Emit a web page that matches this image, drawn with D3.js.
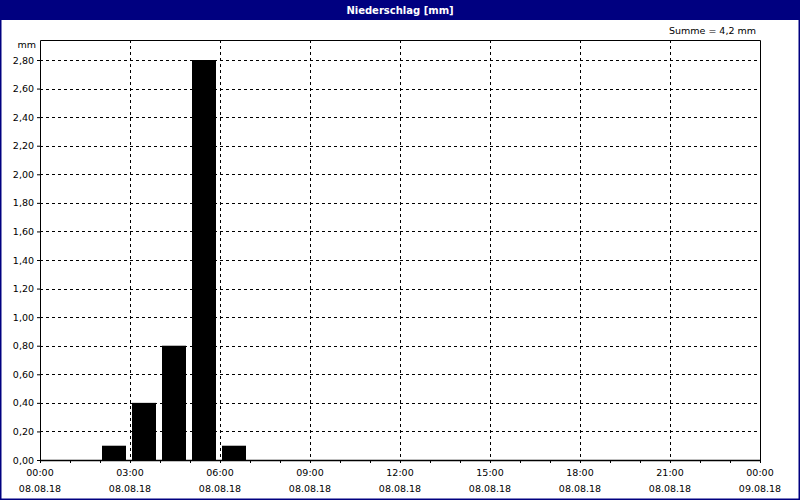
<!DOCTYPE html>
<meta charset="utf-8">
<head>
<title>Niederschlag [mm]</title>
<style>
  body { margin: 0; background: #fff; }
  text { font-family: "DejaVu Sans", Verdana, sans-serif; }
</style>
</head>
<body>
<div id="chart"></div>
<script src="https://d3js.org/d3.v7.min.js"></script>
<script>

// hourly rain amounts, 08.08.18 (hour start -> mm)
var hours = [2, 3, 4, 5, 6];
var amounts = [0.1, 0.4, 0.8, 2.8, 0.1];
var yTicks = [0, 0.2, 0.4, 0.6, 0.8, 1.0, 1.2, 1.4, 1.6, 1.8, 2.0, 2.2, 2.4, 2.6, 2.8];
var xLabelHours = [0, 3, 6, 9, 12, 15, 18, 21, 24];
var timeLabels = ["00:00", "03:00", "06:00", "09:00", "12:00", "15:00", "18:00", "21:00", "00:00"];
var dateLabels = ["08.08.18", "08.08.18", "08.08.18", "08.08.18", "08.08.18", "08.08.18", "08.08.18", "08.08.18", "09.08.18"];
var title = "Niederschlag [mm]";
var sumText = "Summe = 4,2 mm";

var W = 800, H = 500;
var margin = {top: 40, right: 40, bottom: 40, left: 40},
    width = W - margin.left - margin.right,
    height = H - margin.top - margin.bottom;

var svg = d3.select("#chart")
  .append("svg")
    .attr("width", W)
    .attr("height", H);

// frame and title bar
svg.append("rect")
    .attr("x", 0.5).attr("y", 0.5)
    .attr("width", W - 1).attr("height", H - 1)
    .attr("fill", "#fff")
    .attr("stroke", "#000080")
    .attr("stroke-width", 2);
svg.append("rect")
    .attr("x", 0).attr("y", 0)
    .attr("width", W).attr("height", 20)
    .attr("fill", "#000080");
svg.append("text")
    .attr("x", W / 2).attr("y", 14)
    .attr("text-anchor", "middle")
    .attr("fill", "#fff")
    .style("font-size", "10px")
    .style("font-weight", "bold")
    .text(title);

svg.append("text")
    .attr("x", 756).attr("y", 34)
    .attr("text-anchor", "end")
    .style("font-size", "9.5px")
    .text(sumText);

var g = svg.append("g")
    .attr("transform", "translate(" + margin.left + "," + margin.top + ")");

var x = d3.scaleLinear().domain([0, 24]).range([0, width]);
var y = d3.scaleLinear().domain([0, 2.94]).range([height, 0]);

// dashed grid
g.selectAll(".hgrid")
  .data(yTicks.slice(1))
  .enter().append("line")
    .attr("x1", 0).attr("x2", width)
    .attr("y1", function(d) { return Math.round(y(d)) + 0.5; })
    .attr("y2", function(d) { return Math.round(y(d)) + 0.5; })
    .attr("stroke", "#000")
    .attr("stroke-dasharray", "3,3");
g.selectAll(".vgrid")
  .data(xLabelHours.slice(1, -1))
  .enter().append("line")
    .attr("x1", function(d) { return x(d) + 0.5; })
    .attr("x2", function(d) { return x(d) + 0.5; })
    .attr("y1", 0).attr("y2", height)
    .attr("stroke", "#000")
    .attr("stroke-dasharray", "3,3");

// bars
g.selectAll(".bar")
  .data(hours)
  .enter().append("rect")
    .attr("x", function(d) { return x(d) + 2; })
    .attr("width", function(d) { return x(d + 1) - x(d) - 6; })
    .attr("y", function(d, i) { return y(amounts[i]); })
    .attr("height", function(d, i) { return height - y(amounts[i]); })
    .attr("fill", "#000");

// plot border
g.append("path")
    .attr("d", "M0.5," + height + "V0.5H" + (width + 0.5) + "V" + height)
    .attr("fill", "none")
    .attr("stroke", "#000");

// axes
var fmt = function(d) { return d3.format(".2f")(d).replace(".", ","); };
var yAxis = g.append("g")
    .call(d3.axisLeft(y).tickValues(yTicks).tickFormat(fmt).tickSize(3).tickPadding(3));
yAxis.select(".domain").remove();
yAxis.selectAll("text").style("font-size", "9.5px").style("font-family", "DejaVu Sans");

var xAxis = g.append("g")
    .attr("transform", "translate(0," + height + ")")
    .call(d3.axisBottom(x).ticks(24).tickFormat("").tickSize(3).tickSizeOuter(0));
xAxis.select(".domain").attr("stroke", "#000").attr("stroke-width", 1.5);

g.selectAll(".tlab")
  .data(xLabelHours)
  .enter().append("text")
    .attr("x", function(d) { return x(d); })
    .attr("y", height + 16)
    .attr("text-anchor", "middle")
    .style("font-size", "9.5px")
    .text(function(d, i) { return timeLabels[i]; });
g.selectAll(".dlab")
  .data(xLabelHours)
  .enter().append("text")
    .attr("x", function(d) { return x(d); })
    .attr("y", height + 32)
    .attr("text-anchor", "middle")
    .style("font-size", "9.5px")
    .text(function(d, i) { return dateLabels[i]; });

g.append("text")
    .attr("x", -4).attr("y", 8)
    .attr("text-anchor", "end")
    .style("font-size", "9.5px")
    .text("mm");

</script>
</body>
